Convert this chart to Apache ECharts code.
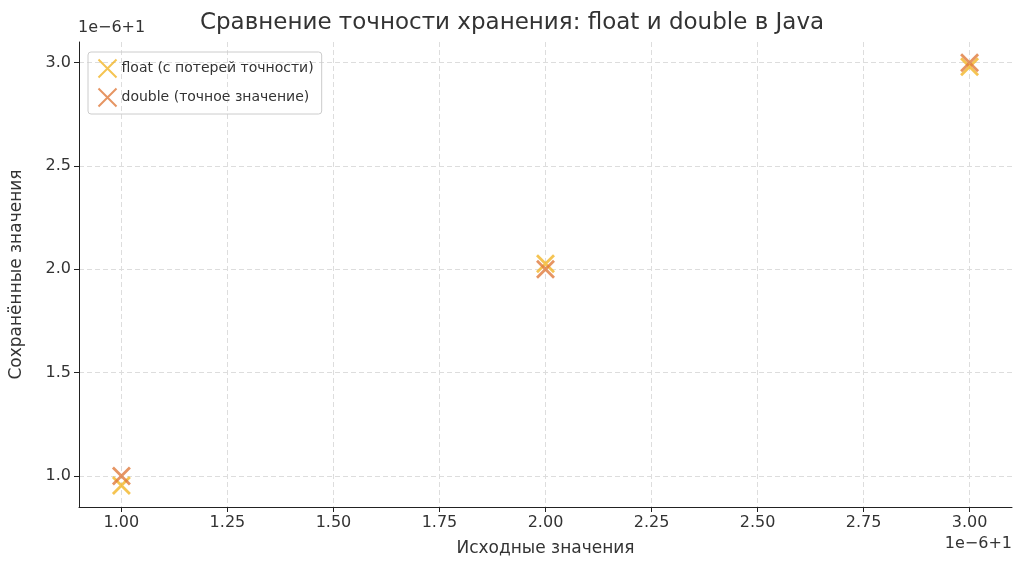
<!DOCTYPE html>
<html><head><meta charset="utf-8">
<script src="https://cdn.jsdelivr.net/npm/echarts@6/dist/echarts.min.js"></script>
<style>html,body{margin:0;padding:0;background:#fff}#c{width:1024px;height:571px}</style>
</head><body><div id="c"></div>
<script>
// values in units of 1e-6, offset +1
const xValues = [1, 2, 3];
const floatValues = [0.9537, 2.0266, 2.9802];
const doubleValues = [1.0, 2.0, 3.0];
const xTicks = [1.0, 1.25, 1.5, 1.75, 2.0, 2.25, 2.5, 2.75, 3.0];
const yTicks = [1.0, 1.5, 2.0, 2.5, 3.0];

const X = 'path://M0,0 L10,10 M10,0 L0,10';
const font = 'DejaVu Sans';
const chart = echarts.init(document.getElementById('c'));
const mk = (vals) => xValues.map((x, i) => [x, vals[i]]);
const ser = (name, vals, color) => ({
  name, type: 'scatter', data: mk(vals), symbol: X, symbolSize: 17,
  itemStyle: { color: 'none', borderColor: color, borderWidth: 2.8 }
});
const axisCommon = {
  axisLine: { show: true, onZero: false, lineStyle: { color: '#222', width: 1 } },
  axisTick: { show: true, length: 5, lineStyle: { color: '#222' } },
  axisLabel: { color: '#333', fontSize: 16, fontFamily: font, formatter: v => v.toFixed(2) },
  splitLine: { show: true, lineStyle: { color: '#ddd', type: [5, 3] } },
  nameTextStyle: { color: '#333', fontSize: 17, fontFamily: font }
};
chart.setOption({
  animation: false,
  title: { text: 'Сравнение точности хранения: float и double в Java', left: 'center', top: 7,
    textStyle: { fontFamily: font, fontSize: 23, fontWeight: 'normal', color: '#333' } },
  grid: { left: 77, right: 12, top: 42, bottom: 64 },
  legend: { left: 88, top: 52, orient: 'vertical', itemGap: 6, itemWidth: 18, itemHeight: 18,
    padding: [5, 8], borderColor: '#ccc', borderWidth: 1, borderRadius: 3,
    textStyle: { fontFamily: font, fontSize: 14, color: '#333' },
    data: [{ name: 'float (с потерей точности)', icon: X }, { name: 'double (точное значение)', icon: X }] },
  xAxis: Object.assign({}, axisCommon, { type: 'value', min: 0.9, max: 3.1, interval: 0.25,
    axisLabel: Object.assign({}, axisCommon.axisLabel, { customValues: xTicks }),
    axisTick: Object.assign({}, axisCommon.axisTick, { customValues: xTicks }),
    splitLine: Object.assign({}, axisCommon.splitLine, { customValues: xTicks }),
    name: 'Исходные значения', nameLocation: 'middle', nameGap: 33 }),
  yAxis: Object.assign({}, axisCommon, { type: 'value', min: 0.85, max: 3.1,
    axisLabel: Object.assign({}, axisCommon.axisLabel, { customValues: yTicks, formatter: v => v.toFixed(1) }),
    axisTick: Object.assign({}, axisCommon.axisTick, { customValues: yTicks }),
    splitLine: Object.assign({}, axisCommon.splitLine, { customValues: yTicks }),
    name: 'Сохранённые значения', nameLocation: 'middle', nameGap: 54 }),
  graphic: [
    { type: 'text', left: 78, top: 20, style: { text: '1e−6+1', fontFamily: font, fontSize: 16, fill: '#333' } },
    { type: 'text', right: 12, top: 536, style: { text: '1e−6+1', fontFamily: font, fontSize: 16, fill: '#333' } }
  ],
  series: [ser('float (с потерей точности)', floatValues, '#f3b527'), ser('double (точное значение)', doubleValues, '#e07a3c')]
});
</script></body></html>
